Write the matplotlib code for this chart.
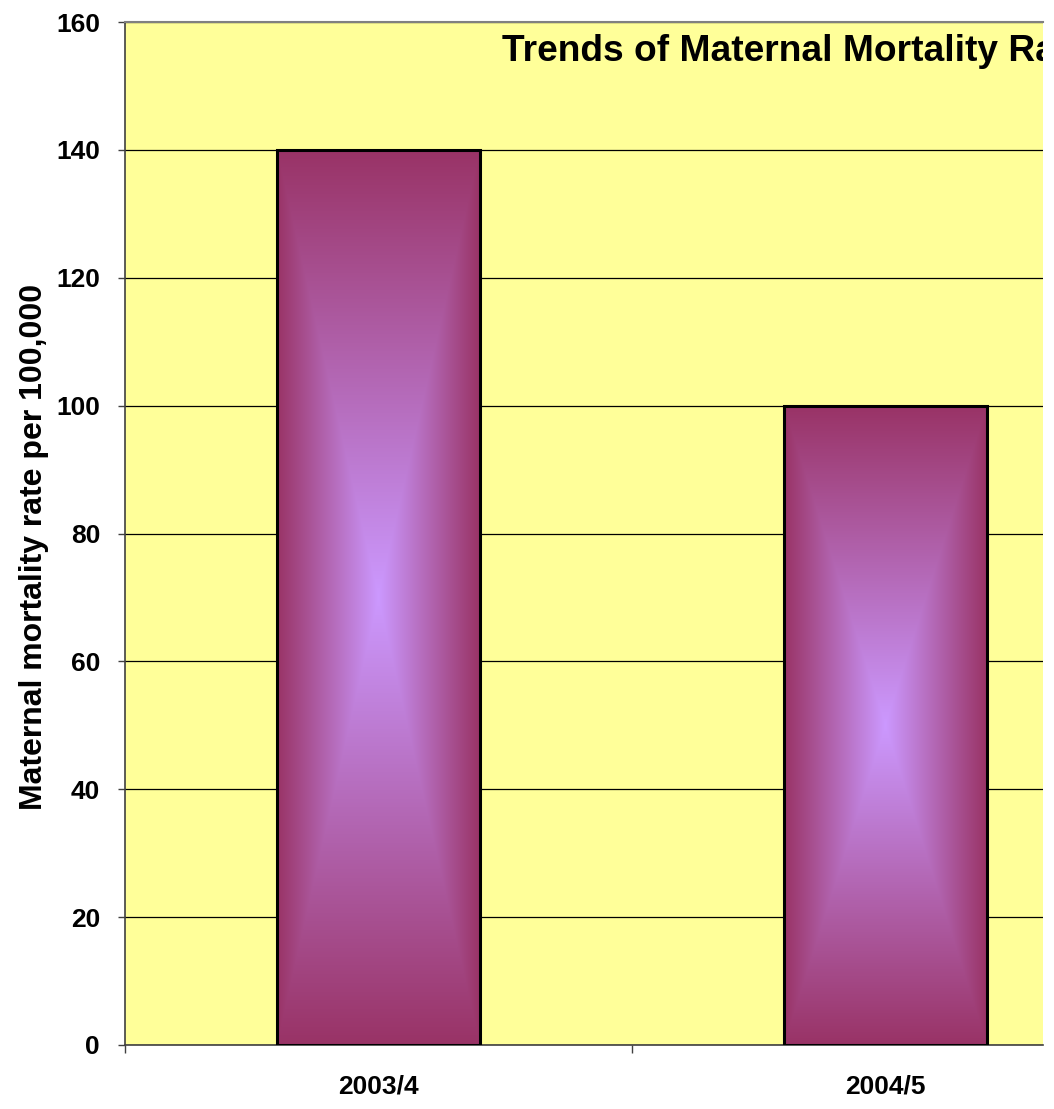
import numpy as np
import matplotlib
matplotlib.use("Agg")
import matplotlib.pyplot as plt
from matplotlib.colors import to_rgb

plt.rcParams['font.family'] = ['Liberation Sans', 'DejaVu Sans']
plt.rcParams['font.weight'] = 'bold'

categories = ["2003/4", "2004/5"]
values = [140, 100]
y_ticks = [0, 20, 40, 60, 80, 100, 120, 140, 160]
title = "Trends of Maternal Mortality Rate"
ylabel = "Maternal mortality rate per 100,000"

W, H = 1054, 1109
fig = plt.figure(figsize=(W / 100, H / 100), dpi=100)
L, R, T, B = 125, 1043, 22, 1045
ax = fig.add_axes([L / W, 1 - B / H, (R - L) / W, (B - T) / H])
ax.set_facecolor('#FFFF99')

x = np.arange(len(categories))
ax.set_xlim(-0.5, 1.31)
ax.set_ylim(0, 160)

# gridlines
ax.set_yticks(y_ticks)
ax.yaxis.grid(True, color='black', linewidth=0.9, zorder=0)
ax.set_axisbelow(True)

bars = ax.bar(x, values, width=0.4, facecolor='none', edgecolor='black',
              linewidth=2.2, zorder=3)

edge = np.array(to_rgb('#993366'))
center = np.array(to_rgb('#CC99FF'))
for b in bars:
    x0, y0 = b.get_x(), b.get_y()
    w, h = b.get_width(), b.get_height()
    nx, ny = 200, 600
    u = np.abs(np.linspace(-1, 1, nx))[None, :]
    v = np.abs(np.linspace(-1, 1, ny))[:, None]
    t = np.maximum(u, v)
    t = np.clip(t, 0, 1)
    img = center[None, None, :] * (1 - t[..., None]) + edge[None, None, :] * t[..., None]
    ax.imshow(img, extent=[x0, x0 + w, y0, y0 + h], aspect='auto',
              origin='lower', zorder=2, interpolation='bilinear')

ax.set_xlim(-0.5, 1.31)
ax.set_ylim(0, 160)

# spines
ax.spines['right'].set_visible(False)
ax.spines['top'].set_color('#808080')
ax.spines['top'].set_linewidth(1.5)
ax.spines['left'].set_color('#404040')
ax.spines['left'].set_linewidth(1.2)
ax.spines['bottom'].set_color('#404040')
ax.spines['bottom'].set_linewidth(1.2)

# y ticks
ax.tick_params(axis='y', direction='out', length=5, width=1, color='#404040',
               pad=13, labelsize=19)
for lab in ax.get_yticklabels():
    lab.set_fontweight('bold')

# x ticks: boundaries as major, labels as minor
ax.set_xticks([-0.5, 0.5])
ax.set_xticklabels(['', ''])
ax.tick_params(axis='x', which='major', direction='out', length=6, width=1,
               color='#404040')
ax.set_xticks(x, minor=True)
ax.set_xticklabels(categories, minor=True, fontsize=19, fontweight='bold')
ax.tick_params(axis='x', which='minor', length=0, pad=21)

ax.set_ylabel(ylabel, fontsize=23, fontweight='bold', labelpad=5)
ax.yaxis.label.set_y(0.487)

ax.text(0.4107, 0.962, title, transform=ax.transAxes, fontsize=26.7,
        fontweight='bold', ha='left', va='baseline', clip_on=True, zorder=5)

fig.savefig('out.png', dpi=100, facecolor='white')
